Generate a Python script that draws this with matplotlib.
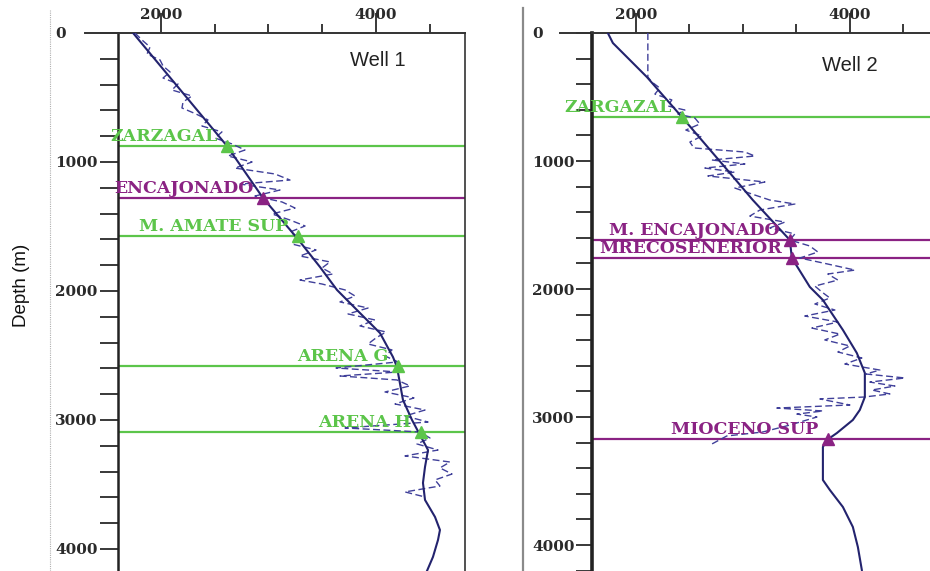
import matplotlib
matplotlib.use("Agg")
import matplotlib.pyplot as plt
from matplotlib.ticker import MultipleLocator
from matplotlib.lines import Line2D

# ---------------- data ----------------
# Well 1 : velocity trend (solid) and interval-velocity log (dashed)
w1_trend_depth = [0, 876, 1279, 1589, 1814, 1992, 2171, 2326, 2512, 2589, 2845, 3000,
                  3116, 3233, 3364, 3488, 3620, 3752, 3853, 3930, 4062, 4171]
w1_trend_vel = [1740, 2614, 2949, 3265, 3479, 3637, 3851, 4037, 4158, 4195, 4251, 4335,
                4409, 4484, 4456, 4437, 4456, 4549, 4595, 4577, 4530, 4474]

w1_log_depth = [0, 54, 109, 163, 209, 256, 302, 349, 395, 442, 488, 535, 581, 628, 674,
                721, 767, 814, 860, 907, 954, 1000, 1047, 1093, 1140, 1171, 1217, 1264,
                1310, 1357, 1403, 1450, 1496, 1543, 1589, 1636, 1682, 1729, 1775, 1822,
                1868, 1915, 1946, 1992, 2039, 2085, 2132, 2178, 2225, 2271, 2318, 2364,
                2411, 2457, 2504, 2550, 2597, 2628, 2659, 2690, 2736, 2783, 2829, 2876,
                2923, 2969, 3016, 3062, 3093, 3140, 3186, 3233, 3279, 3326, 3372, 3419,
                3465, 3512, 3558, 3597]
w1_log_vel = [1758, 1823, 1898, 1870, 1991, 2019, 2084, 2019, 2158, 2102, 2288, 2205,
              2195, 2326, 2437, 2381, 2567, 2502, 2660, 2781, 2623, 2847, 2688, 3060,
              3200, 2735, 3107, 2874, 3126, 3247, 3033, 3200, 3340, 3200, 3293, 3219,
              3442, 3293, 3572, 3498, 3600, 3293, 3498, 3712, 3805, 3665, 3926, 3740,
              3991, 3851, 4093, 4000, 3926, 4149, 4084, 4205, 3628, 4205, 3665, 4195,
              4316, 4084, 4353, 4177, 4456, 4270, 4484, 3712, 4409, 4502, 4381, 4577,
              4270, 4688, 4595, 4707, 4549, 4595, 4270, 4456]

w1_tops = ["ZARZAGAL", "ENCAJONADO", "M. AMATE SUP", "ARENA G", "ARENA H"]
w1_top_depth = [876, 1279, 1574, 2581, 3093]
w1_top_vel = [2614, 2949, 3274, 4205, 4419]
w1_top_group = ["g", "p", "g", "g", "g"]

# Well 2
w2_trend_depth = [0, 78, 344, 656, 1094, 1305, 1617, 1758, 1984, 2086, 2320, 2500, 2656,
                  2844, 2945, 3023, 3125, 3180, 3234, 3492, 3570, 3703, 3859, 4016, 4195]
w2_trend_vel = [1738, 1785, 2103, 2430, 2879, 3093, 3439, 3458, 3626, 3748, 3935, 4065,
                4140, 4140, 4093, 4028, 3879, 3785, 3748, 3748, 3813, 3935, 4028, 4075, 4112]

w2_log_depth = [0, 55, 117, 180, 242, 305, 344, 383, 430, 477, 523, 570, 602, 633, 664,
                711, 758, 805, 852, 898, 930, 961, 992, 1023, 1055, 1086, 1117, 1164,
                1211, 1258, 1305, 1336, 1383, 1430, 1477, 1523, 1570, 1617, 1664, 1711,
                1758, 1805, 1852, 1883, 1930, 1977, 2023, 2070, 2117, 2164, 2211, 2258,
                2305, 2352, 2398, 2445, 2492, 2539, 2586, 2633, 2664, 2695, 2727, 2758,
                2789, 2820, 2844, 2859, 2906, 2930, 2953, 2977, 3000, 3063, 3117, 3148, 3211]
w2_log_vel = [2112, 2112, 2112, 2112, 2112, 2112, 2112, 2150, 2224, 2178, 2336, 2299,
              2458, 2393, 2551, 2598, 2467, 2617, 2505, 2542, 3019, 3112, 2710, 3019,
              2645, 2925, 2673, 3206, 2925, 3084, 3252, 3486, 3159, 3065, 3393, 3252,
              3486, 3439, 3626, 3701, 3533, 3794, 4047, 3794, 3888, 3673, 3738, 3813,
              3673, 3860, 3579, 3888, 3645, 3907, 3766, 4000, 3888, 4112, 3953, 4280,
              4150, 4514, 4187, 4421, 4206, 4374, 4131, 3720, 4000, 3318, 3748, 3505,
              3692, 3439, 3187, 2850, 2710]

w2_tops = ["ZARGAZAL", "M. ENCAJONADO", "MRECOSENERIOR", "MIOCENO SUP"]
w2_top_depth = [656, 1617, 1758, 3172]
w2_top_vel = [2430, 3439, 3458, 3794]
w2_top_group = ["g", "p", "p", "p"]

x_major = [2000, 4000]
x_major_labels = ["2000", "4000"]
y_major = [0, 1000, 2000, 3000, 4000]
y_major_labels = ["0", "1000", "2000", "3000", "4000"]

# ---------------- style ----------------
GREEN = "#5cc54a"
PURPLE = "#8a2283"
NAVY = "#23236e"
LOGC = "#40409a"
TICKC = "#2a2a2a"
top_colors = {"g": GREEN, "p": PURPLE}
tick_font = dict(family="DejaVu Serif", weight="bold", size=11)
label_font = dict(family="DejaVu Serif", weight="bold", size=12.5)

fig = plt.figure(figsize=(9.3, 5.71), dpi=100)
W, H = 930.0, 571.0

ax1 = fig.add_axes([118 / W, 0, 347 / W, 538 / H])
ax2 = fig.add_axes([592 / W, 0, 338 / W, 538 / H])


def style_axes(ax, xlim, ylim_bottom, left_lw, ytick_len_pt, ypad, show_right):
    ax.set_xlim(*xlim)
    ax.set_ylim(ylim_bottom, 0)
    ax.xaxis.tick_top()
    ax.set_xticks(x_major)
    ax.set_xticklabels(x_major_labels, fontdict=tick_font, color=TICKC)
    ax.xaxis.set_minor_locator(MultipleLocator(500))
    ax.tick_params(axis="x", which="major", direction="out", length=14.4, width=1.3,
                   color=TICKC, pad=-6.5, top=True, bottom=False)
    ax.tick_params(axis="x", which="minor", direction="out", length=6.5, width=1.3,
                   color=TICKC, top=True, bottom=False)
    ax.set_yticks(y_major)
    ax.set_yticklabels(y_major_labels, fontdict=tick_font, color=TICKC, ha="left")
    ax.yaxis.set_minor_locator(MultipleLocator(200))
    ax.tick_params(axis="y", which="both", direction="out", length=ytick_len_pt,
                   width=1.3, color=TICKC)
    ax.tick_params(axis="y", which="major", pad=ypad)
    ax.spines["bottom"].set_visible(False)
    ax.spines["right"].set_visible(show_right)
    ax.spines["right"].set_linewidth(1.2)
    ax.spines["right"].set_color("#333333")
    ax.spines["top"].set_linewidth(1.4)
    ax.spines["top"].set_color("#333333")
    ax.spines["left"].set_linewidth(left_lw)
    ax.spines["left"].set_color("#222222")
    # extension of the top line to the left (depth 0 mark)
    ax.plot([-0.095, 0], [1, 1], transform=ax.transAxes, clip_on=False,
            color="#333333", lw=1.4)


style_axes(ax1, (1600, 4828), 4171, 1.8, 13.0, 32.4, True)
style_axes(ax2, (1590, 4749), 4203, 2.6, 11.5, 31.7, False)


def draw_well(ax, tdep, tvel, ldep, lvel, tops, tdepths, tvels, tgroups):
    for name, d, v, g in zip(tops, tdepths, tvels, tgroups):
        ax.axhline(d, color=top_colors[g], lw=1.6, zorder=2)
    ax.plot(lvel, ldep, color=LOGC, lw=1.0, dashes=(5, 2.5), zorder=3)
    ax.plot(tvel, tdep, color=NAVY, lw=1.5, zorder=4)
    for name, d, v, g in zip(tops, tdepths, tvels, tgroups):
        ax.plot(v, d, marker="^", ms=8, color=top_colors[g], mec=top_colors[g],
                zorder=5, clip_on=False)
        ax.annotate(name, xy=(v, d), xytext=(-7, 3.5), textcoords="offset points",
                    ha="right", va="baseline", color=top_colors[g], zorder=6,
                    **label_font)


draw_well(ax1, w1_trend_depth, w1_trend_vel, w1_log_depth, w1_log_vel,
          w1_tops, w1_top_depth, w1_top_vel, w1_top_group)
draw_well(ax2, w2_trend_depth, w2_trend_vel, w2_log_depth, w2_log_vel,
          w2_tops, w2_top_depth, w2_top_vel, w2_top_group)

ax1.text(0.668, 0.9387, "Well 1", transform=ax1.transAxes, ha="left", va="baseline",
         family="Liberation Sans", fontsize=14.5, color="#222222")
ax2.text(0.680, 0.929, "Well 2", transform=ax2.transAxes, ha="left", va="baseline",
         family="Liberation Sans", fontsize=14.5, color="#222222")

fig.text(21 / W, 1 - 285 / H, "Depth (m)", rotation=90, ha="center", va="center",
         family="Liberation Sans", fontsize=13.5, color="#111111")

# page-border artefacts of the original panels
fig.add_artist(Line2D([50 / W, 50 / W], [0, 1 - 10 / H], color="#b0b0b0", lw=0.8,
                      linestyle=(0, (1, 1))))
fig.add_artist(Line2D([523 / W, 523 / W], [0, 1 - 8 / H], color="#8a8a8a", lw=1.6))

fig.savefig("out.png", dpi=100)
